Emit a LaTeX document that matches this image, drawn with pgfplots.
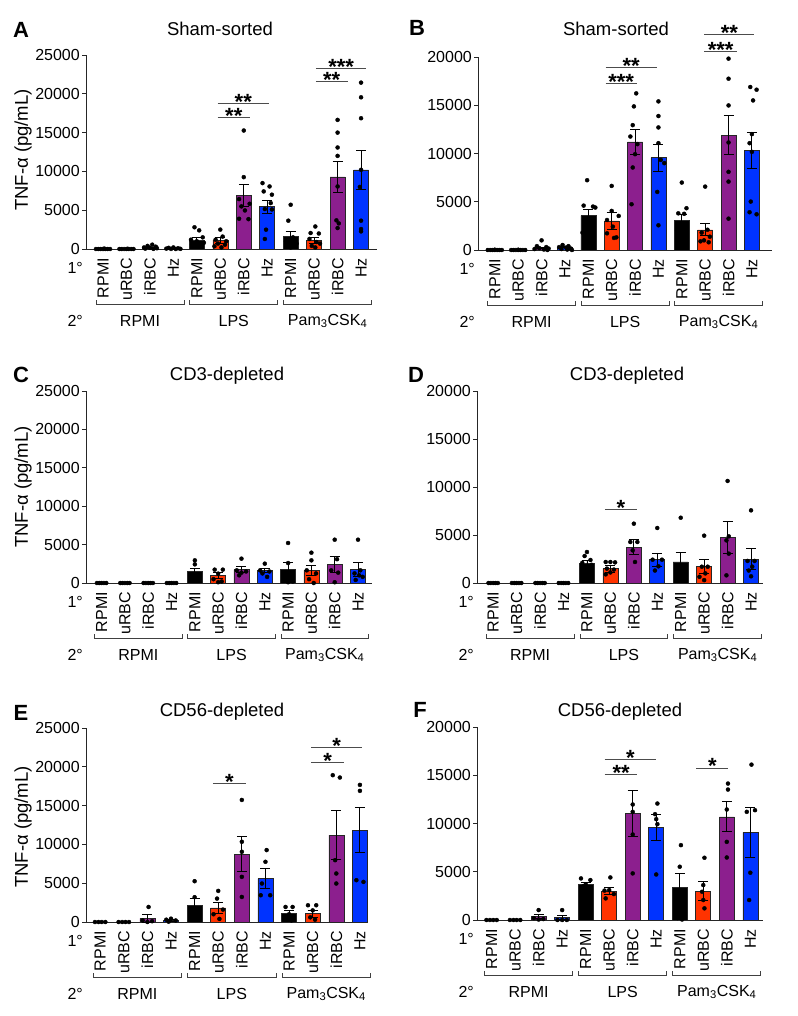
\documentclass[border=0pt]{standalone}
\usepackage{fontspec}
\setmainfont{Liberation Sans}
\usepackage{pgfplots}
\pgfplotsset{compat=1.18}
\definecolor{cred}{HTML}{FF3300}
\definecolor{cpurple}{HTML}{8C1F8E}
\definecolor{cblue}{HTML}{0033FF}
\newcommand{\tickfont}{\fontsize{16}{18}\selectfont}
\newcommand{\titlefont}{\fontsize{18.5}{20}\selectfont}
\newcommand{\letterfont}{\fontsize{22}{24}\selectfont\bfseries}
\newcommand{\starfont}{\fontsize{22}{22}\selectfont\bfseries}

\pgfplotsset{
  panel/.style={
    scale only axis, anchor=south west, clip=false,
    axis lines=left, axis line style={-, line width=0.8pt, black!85},
    ymin=0,
    xtick={0,1,...,11},
    xticklabels={RPMI,uRBC,iRBC,Hz,RPMI,uRBC,iRBC,Hz,RPMI,uRBC,iRBC,Hz},
    xticklabel style={rotate=90, anchor=east, font=\tickfont, inner sep=5pt},
    x tick style={draw=none},
    y tick style={line width=0.8pt, black!85},
    tick align=outside, major tick length=4pt,
    yticklabel style={font=\tickfont, inner sep=2pt},
    /pgf/number format/assume math mode=true,
    /pgf/number format/1000 sep={},
    scaled y ticks=false,
  },
  bars/.style={ybar, bar width=15pt, bar shift=0pt, draw=black!85, line width=0.6pt, fill=#1,
    error bars/.cd, y dir=both, y explicit,
    error bar style={line width=0.9pt, black},
    error mark options={rotate=90, mark size=5pt, line width=0.9pt, black}},
  pts/.style={only marks, mark=*, mark size=2pt, black, mark options={draw=black, fill=black}},
}
\tikzset{bracket/.style={line width=0.8pt, black!75}}

% significance line with stars above it
\newcommand{\sig}[4]{\draw[line width=0.8pt, black!70] (axis cs:#1,#3) -- node[midway, anchor=base, yshift=-6pt, inner sep=0pt, font=\starfont, text=black] {#4} (axis cs:#2,#3);}

\newcommand{\decor}{%
  \node[anchor=east, font=\tickfont, inner sep=0pt] at ([xshift=-3pt,yshift=-19pt]axis description cs:0,0) {1°};
  \node[anchor=east, font=\tickfont, inner sep=0pt] at ([xshift=-3pt,yshift=-72pt]axis description cs:0,0) {2°};
  \draw[bracket] ([yshift=-51pt]axis cs:-0.3,0) -- ([yshift=-55pt]axis cs:-0.3,0) -- ([yshift=-55pt]axis cs:3.45,0) -- ([yshift=-51pt]axis cs:3.45,0);
  \draw[bracket] ([yshift=-51pt]axis cs:3.7,0) -- ([yshift=-55pt]axis cs:3.7,0) -- ([yshift=-55pt]axis cs:7.45,0) -- ([yshift=-51pt]axis cs:7.45,0);
  \draw[bracket] ([yshift=-51pt]axis cs:7.7,0) -- ([yshift=-55pt]axis cs:7.7,0) -- ([yshift=-55pt]axis cs:11.45,0) -- ([yshift=-51pt]axis cs:11.45,0);
  \node[font=\tickfont] at ([yshift=-72pt]axis cs:1.575,0) {RPMI};
  \node[font=\tickfont] at ([yshift=-72pt]axis cs:5.575,0) {LPS};
  \node[font=\tickfont] at ([yshift=-72pt]axis cs:9.575,0) {Pam\textsubscript{3}CSK\textsubscript{4}};
}

\begin{document}
\begin{tikzpicture}
\path[use as bounding box] (0,0) rectangle (797pt,-1016pt);

% titles, letters, y labels
\node[font=\letterfont] at (21pt,-30pt) {A};
\node[font=\letterfont] at (417pt,-28pt) {B};
\node[font=\letterfont] at (21pt,-375pt) {C};
\node[font=\letterfont] at (416pt,-375pt) {D};
\node[font=\letterfont] at (21pt,-713pt) {E};
\node[font=\letterfont] at (420pt,-710pt) {F};
\node[font=\titlefont] at (220pt,-29pt) {Sham-sorted};
\node[font=\titlefont] at (616pt,-29pt) {Sham-sorted};
\node[font=\titlefont] at (227pt,-376pt) {CD3-depleted};
\node[font=\titlefont] at (627pt,-376pt) {CD3-depleted};
\node[font=\titlefont] at (222pt,-712pt) {CD56-depleted};
\node[font=\titlefont] at (620pt,-712pt) {CD56-depleted};
\node[font=\titlefont, rotate=90] at (23pt,-150pt) {TNF-α (pg/mL)};
\node[font=\titlefont, rotate=90] at (23pt,-487pt) {TNF-α (pg/mL)};
\node[font=\titlefont, rotate=90] at (23pt,-827pt) {TNF-α (pg/mL)};

% ---------------- A
\begin{axis}[panel, at={(86pt,-249pt)}, width=291pt, height=194pt,
  xmin=-0.725, xmax=11.68, ymax=25000, ytick={0,5000,...,25000}]
\addplot[bars=black] coordinates {(0,40) +- (0,20) (4,1100) +- (0,450) (8,1630) +- (0,640)};
\addplot[bars=cred] coordinates {(1,30) +- (0,15) (5,1150) +- (0,400) (9,1100) +- (0,400)};
\addplot[bars=cpurple] coordinates {(2,150) +- (0,60) (6,6900) +- (0,1450) (10,9300) +- (0,2000)};
\addplot[bars=cblue] coordinates {(3,60) +- (0,20) (7,5450) +- (0,850) (11,10200) +- (0,2500)};
\addplot[pts] coordinates {
(-0.3,0) (-0.2,0) (-0.1,0) (0,0) (0.1,0) (0.2,0) (0.3,0) (0.05,50)
(0.7,0) (0.8,0) (0.9,0) (1,0) (1.1,0) (1.2,0) (1.3,0) (1.05,30)
(2.1,560) (1.9,400) (2.25,300) (1.75,200) (2.0,150) (2.3,100) (1.8,50) (2.15,20)
(3,200) (2.8,150) (3.2,100) (2.7,50) (3.3,20) (2.9,10) (3.1,0)
(3.9,2800) (4.1,2400) (4.25,1500) (3.75,1200) (4,1000) (4.3,800) (3.8,600) (4.15,400) (3.95,300)
(5,2500) (5.1,1600) (4.8,1200) (5.25,1000) (4.9,700) (5.2,560) (4.75,350) (5.05,200)
(6,15270) (6,9260) (5.8,6430) (6.25,5830) (5.9,5490) (6.05,4970) (5.8,3900) (6.2,3850)
(6.8,8490) (7.1,8060) (6.85,7420) (7.2,7000) (7.15,5920) (6.9,5150) (7.2,5100) (6.95,2490) (6.9,1290)
(8,5700) (7.9,3650) (8.1,1500) (7.8,1000) (8.25,700) (7.9,500) (8.2,300) (8,200)
(9.05,2900) (8.85,2060) (9.2,2000) (8.8,1300) (9.1,900) (9.25,700) (8.9,400) (9.05,200)
(10,16640) (10,15000) (10,13080) (10,12000) (10,8060) (9.95,3690) (10,2700) (10.05,3300)
(11,21440) (11,19550) (11,16850) (11,10200) (10.95,8000) (11,3650) (11,2570) (11,2270)
};
\sig{4.89}{6.26}{16940}{**}
\sig{4.89}{7.07}{18780}{**}
\sig{9.07}{10.43}{21570}{**}
\sig{9.07}{11.23}{23280}{***}
\decor
\end{axis}

% ---------------- B
\begin{axis}[panel, at={(478pt,-250pt)}, width=294pt, height=193pt,
  xmin=-0.72, xmax=11.86, ymax=20000, ytick={0,5000,...,20000}]
\addplot[bars=black] coordinates {(0,40) +- (0,10) (4,3560) +- (0,660) (8,3040) +- (0,660)};
\addplot[bars=cred] coordinates {(1,40) +- (0,10) (5,3010) +- (0,900) (9,2080) +- (0,620)};
\addplot[bars=cpurple] coordinates {(2,200) +- (0,80) (6,11210) +- (0,1280) (10,11900) +- (0,2000)};
\addplot[bars=cblue] coordinates {(3,300) +- (0,80) (7,9580) +- (0,1400) (11,10310) +- (0,1850)};
\addplot[pts] coordinates {
(-0.3,0) (-0.2,0) (-0.1,0) (0,0) (0.1,0) (0.2,0) (0.3,0) (0,30)
(0.7,0) (0.8,0) (0.9,0) (1,0) (1.1,0) (1.2,0) (1.3,0) (1,30)
(2,1000) (1.8,400) (2.2,300) (1.9,200) (2.3,150) (1.7,100) (2.1,50) (2.25,0)
(2.9,520) (3.15,400) (2.75,300) (3.05,250) (3.25,150) (2.85,100) (3.1,50) (3.3,0)
(3.95,7230) (3.8,4600) (4.2,4500) (4.3,4400) (3.9,2500) (4.1,2000) (3.75,1800) (4.2,1450)
(5,6640) (5,4050) (5.3,3530) (4.8,3110) (5.05,2420) (4.8,1730) (5.2,1310) (5.1,1250)
(6.05,16230) (5.95,14880) (5.9,12940) (5.8,11760) (6.1,10970) (6,9930) (5.9,8550) (5.85,4740)
(7,15400) (7,13880) (7,12700) (7,11070) (7.1,9340) (7.25,9000) (6.95,6020) (7,2560)
(8,6990) (8.2,4330) (7.85,3800) (8.1,3750) (7.8,2000) (8.2,1500) (7.9,1000) (8.1,900)
(9,6570) (9.1,2100) (8.85,1800) (9.2,1380) (8.95,1000) (8.8,900) (9.15,800)
(10,19830) (10,17750) (10,14980) (10,11140) (10,8100) (10,7090) (10,3250)
(10.93,16890) (11.2,16610) (11.05,15500) (11,12010) (10.9,11070) (11,10170) (10.95,5020) (10.9,3910) (11.2,3700)
};
\sig{4.74}{6.07}{17230}{***}
\sig{4.74}{6.93}{18960}{**}
\sig{8.97}{10.36}{20590}{***}
\sig{8.97}{11.11}{22350}{**}
\decor
\end{axis}

% ---------------- C
\begin{axis}[panel, at={(86pt,-583pt)}, width=286pt, height=192pt,
  xmin=-0.67, xmax=11.6, ymax=25000, ytick={0,5000,...,25000}]
\addplot[bars=black] coordinates {(0,0) +- (0,0) (4,1520) +- (0,430) (8,1740) +- (0,990)};
\addplot[bars=cred] coordinates {(1,0) +- (0,0) (5,1000) +- (0,350) (9,1650) +- (0,650)};
\addplot[bars=cpurple] coordinates {(2,0) +- (0,0) (6,1740) +- (0,430) (10,2430) +- (0,1040)};
\addplot[bars=cblue] coordinates {(3,0) +- (0,0) (7,1650) +- (0,220) (11,1780) +- (0,870)};
\addplot[pts] coordinates {
(-0.2,0) (-0.1,0) (0,0) (0.1,0) (0.2,0)
(0.8,0) (0.9,0) (1,0) (1.1,0) (1.2,0)
(1.8,0) (1.9,0) (2,0) (2.1,0) (2.2,0)
(2.8,0) (2.9,0) (3,0) (3.1,0) (3.2,0)
(4,2950) (4,2430) (3.8,1000) (4.2,800) (3.9,500) (4.15,400)
(4.85,1740) (5.2,1740) (5,1220) (4.8,500) (5.15,200) (5,100)
(6,3170) (5.8,1650) (6.2,1500) (6,1350) (5.9,1000)
(7,2520) (6.8,1650) (7.2,1500) (6.9,1250) (7.1,800)
(8,5210) (8,2600) (7.85,500) (8.15,300) (8,100) (8.2,200)
(9,3950) (9,2950) (8.8,1650) (9.2,1250) (8.9,500) (9.1,0)
(10,5640) (10.1,3100) (9.85,1650) (10.15,1350) (10,100)
(11,5640) (11.1,1650) (10.85,1250) (11.2,800) (10.9,400) (11.05,1000)
};
\decor
\end{axis}

% ---------------- D
\begin{axis}[panel, at={(477pt,-583pt)}, width=286pt, height=192pt,
  xmin=-0.69, xmax=11.51, ymax=20000, ytick={0,5000,...,20000}]
\addplot[bars=black] coordinates {(0,0) +- (0,0) (4,2080) +- (0,280) (8,2190) +- (0,1000)};
\addplot[bars=cred] coordinates {(1,0) +- (0,0) (5,1490) +- (0,350) (9,1740) +- (0,730)};
\addplot[bars=cpurple] coordinates {(2,0) +- (0,0) (6,3750) +- (0,760) (10,4720) +- (0,1670)};
\addplot[bars=cblue] coordinates {(3,0) +- (0,0) (7,2430) +- (0,700) (11,2500) +- (0,1080)};
\addplot[pts] coordinates {
(-0.2,0) (-0.1,0) (0,0) (0.1,0) (0.2,0)
(0.8,0) (0.9,0) (1,0) (1.1,0) (1.2,0)
(1.8,0) (1.9,0) (2,0) (2.1,0) (2.2,0)
(2.8,0) (2.9,0) (3,0) (3.1,0) (3.2,0)
(4,3230) (3.9,2810) (4.15,2400) (3.8,2100) (4.2,1900) (4,1700) (3.85,1600)
(4.8,2190) (5,2190) (5.2,2150) (4.85,1500) (5.15,1400) (5,1100) (4.8,900)
(6,6180) (5.85,4270) (6.15,4270) (5.95,3400) (6.05,2190)
(7,5730) (6.8,2430) (7.2,2430) (7.05,1740) (6.9,1300)
(8,6800) (7.9,1500) (8.15,1000) (7.85,500) (8.1,300)
(9,4930) (8.9,1700) (9.15,1700) (9.05,1000) (8.8,650) (9,300)
(10,10630) (10.05,4860) (9.95,4440) (10.05,3060) (9.95,800)
(11,7570) (10.85,2300) (11.15,2300) (11.05,1700) (10.9,1300) (11,700)
};
\sig{4.76}{6.13}{7640}{*}
\decor
\end{axis}

% ---------------- E
\begin{axis}[panel, at={(86pt,-922pt)}, width=281pt, height=194pt,
  xmin=-0.6, xmax=11.3, ymax=25000, ytick={0,5000,...,25000}]
\addplot[bars=black] coordinates {(0,0) +- (0,0) (4,2110) +- (0,990) (8,1080) +- (0,430)};
\addplot[bars=cred] coordinates {(1,0) +- (0,0) (5,1810) +- (0,690) (9,1080) +- (0,430)};
\addplot[bars=cpurple] coordinates {(2,470) +- (0,480) (6,8750) +- (0,2240) (10,11210) +- (0,3140)};
\addplot[bars=cblue] coordinates {(3,215) +- (0,100) (7,5600) +- (0,1250) (11,11850) +- (0,2890)};
\addplot[pts] coordinates {
(-0.22,0) (-0.07,0) (0.07,0) (0.22,0)
(0.78,0) (0.93,0) (1.07,0) (1.22,0)
(2.05,1940) (1.8,200) (2.2,100) (2,0)
(3,430) (2.8,300) (3.2,200) (2.9,50)
(4,5260) (4,3200) (3.85,1000) (4.15,600) (4,500)
(5,4010) (4.95,3020) (5.2,1600) (4.8,1000) (5.05,400)
(6,15730) (6,10340) (6,9050) (6,5820) (6,3230)
(7.05,9270) (7,7760) (6.85,4960) (6.8,3450) (7.2,3450)
(7.85,1940) (8.15,1940) (8,1000) (7.9,300) (8.1,200)
(8.8,2160) (9.15,2160) (9,1500) (8.9,600) (9.1,300)
(9.85,18920) (10.15,18620) (9.95,7970) (10,6250) (10,4960)
(11,17670) (11,16900) (10.85,5390) (11.15,5170)
};
\sig{4.77}{6.17}{17890}{*}
\sig{8.93}{10.34}{20600}{*}
\sig{8.93}{11.1}{22500}{*}
\decor
\end{axis}

% ---------------- F
\begin{axis}[panel, at={(477pt,-920pt)}, width=286pt, height=193pt,
  xmin=-0.62, xmax=11.54, ymax=20000, ytick={0,5000,...,20000}]
\addplot[bars=black] coordinates {(0,0) +- (0,0) (4,3690) +- (0,210) (8,3380) +- (0,1450)};
\addplot[bars=cred] coordinates {(1,0) +- (0,0) (5,3000) +- (0,380) (9,3000) +- (0,1000)};
\addplot[bars=cpurple] coordinates {(2,345) +- (0,200) (6,11030) +- (0,2420) (10,10690) +- (0,1550)};
\addplot[bars=cblue] coordinates {(3,240) +- (0,210) (7,9590) +- (0,1380) (11,9070) +- (0,2590)};
\addplot[pts] coordinates {
(-0.22,0) (-0.07,0) (0.07,0) (0.22,0)
(0.78,0) (0.93,0) (1.07,0) (1.22,0)
(2,1030) (1.8,200) (2.2,100) (2,50)
(3,1030) (2.8,0) (3,0) (3.2,0)
(3.8,4310) (4.2,4140) (4,3700) (3.9,3500)
(5.05,4410) (5,3100) (4.8,3050) (5.2,2690) (4.85,2240)
(6,11970) (6,11210) (6,8860) (6,4830)
(7.05,12070) (6.95,10970) (7,10450) (7.05,9930) (7,4720)
(8.05,7760) (8,5520) (7.9,200) (8.1,50)
(9.05,6450) (9,3620) (8.95,2930) (9,2070) (9.05,1210)
(10.05,14140) (10.05,13520) (10,11450) (10,8100) (10,6480)
(11.05,16100) (10.85,11210) (11.2,11380) (11,4900) (10.95,2070)
};
\sig{4.81}{6.2}{15070}{**}
\sig{4.81}{7.0}{16620}{*}
\sig{8.7}{10.07}{15760}{*}
\decor
\end{axis}
\end{tikzpicture}
\end{document}
